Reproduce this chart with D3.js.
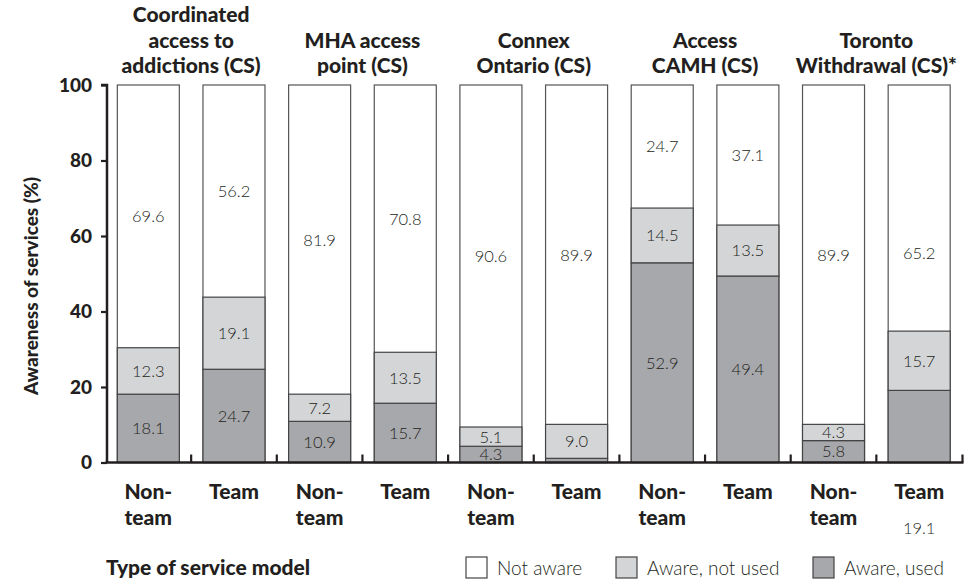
<!DOCTYPE html>
<html>
<head>
<meta charset="utf-8">
<script src="https://cdn.jsdelivr.net/npm/d3@7"></script>
<style>
  body { margin: 0; background: #fff; }
  svg text { font-family: Lato, "Open Sans", sans-serif; fill: #231f20; }
</style>
</head>
<body>
<svg id="chart" width="965" height="581"></svg>
<script>
// services (header of each pair of bars), split in lines as printed
const services = [
  ["Coordinated", "access to", "addictions (CS)"],
  ["MHA access", "point (CS)"],
  ["Connex", "Ontario (CS)"],
  ["Access", "CAMH (CS)"],
  ["Toronto", "Withdrawal (CS)*"]
];
const models = [["Non-", "team"], ["Team"]];

// one value per bar, in order: service 1 non-team, service 1 team, ...
const awareUsed    = [18.1, 24.7, 10.9, 15.7, 4.3, 1.1, 52.9, 49.4, 5.8, 19.1];
const awareNotUsed = [12.3, 19.1,  7.2, 13.5, 5.1, 9.0, 14.5, 13.5, 4.3, 15.7];
const notAware     = [69.6, 56.2, 81.9, 70.8, 90.6, 89.9, 24.7, 37.1, 89.9, 65.2];

const yTicks = [0, 20, 40, 60, 80, 100];
const legendItems = ["Not aware", "Aware, not used", "Aware, used"];
const colors = ["#ffffff", "#d4d5d7", "#a7a8ab"];

const svg = d3.select("#chart");

const bars = d3.range(awareUsed.length);
const x = d3.scaleBand()
  .domain(bars)
  .range([105.5, 962])
  .paddingInner(0.276)
  .paddingOuter(0.138);
const y = d3.scaleLinear().domain([0, 100]).range([462.5, 85]);
const step = x.step();

// bars: full white box first, then stacked segments on top of it
const g = svg.append("g");
g.selectAll("rect.box")
  .data(bars)
  .enter()
  .append("rect")
  .attr("x", d => x(d))
  .attr("y", y(100))
  .attr("width", x.bandwidth())
  .attr("height", y(0) - y(100))
  .attr("fill", colors[0])
  .attr("stroke", "#555")
  .attr("stroke-width", 1.2);

const segs = [];
bars.forEach(i => {
  segs.push({ i: i, y0: 0, y1: awareUsed[i], v: awareUsed[i], c: colors[2] });
  segs.push({ i: i, y0: awareUsed[i], y1: awareUsed[i] + awareNotUsed[i], v: awareNotUsed[i], c: colors[1] });
});
g.selectAll("rect.seg")
  .data(segs)
  .enter()
  .append("rect")
  .attr("x", d => x(d.i))
  .attr("y", d => y(d.y1))
  .attr("width", x.bandwidth())
  .attr("height", d => y(d.y0) - y(d.y1))
  .attr("fill", d => d.c)
  .attr("stroke", "#444")
  .attr("stroke-width", 1.2);

// value labels, centred in their segment
const labels = segs.filter(d => d.v >= 2).map(d => ({ i: d.i, v: d.v, at: (d.y0 + d.y1) / 2 }));
bars.forEach(i => {
  const top = awareUsed[i] + awareNotUsed[i];
  labels.push({ i: i, v: notAware[i], at: (top + 100) / 2 });
});
// the last bar is typeset oddly in the original
labels.forEach(d => {
  if (d.i === 9 && d.v === notAware[9]) d.py = y(55.4);
  if (d.i === 9 && d.v === awareUsed[9]) d.py = 528;
});
g.selectAll("text.val")
  .data(labels)
  .enter()
  .append("text")
  .attr("x", d => x(d.i) + x.bandwidth() / 2)
  .attr("y", d => d.py !== undefined ? d.py : y(d.at))
  .attr("dy", "0.36em")
  .attr("text-anchor", "middle")
  .style("font-size", "16.5px")
  .style("font-weight", 300)
  .text(d => d.v.toFixed(1));

// y axis
const yAxis = svg.append("g")
  .attr("transform", "translate(107,0)")
  .call(d3.axisLeft(y).tickValues(yTicks).tickSize(6).tickPadding(9));
yAxis.select(".domain").attr("stroke", "#231f20").attr("stroke-width", 2.5)
  .attr("d", "M-6," + y(100) + "H0V" + y(0));
yAxis.selectAll(".tick line").attr("stroke", "#231f20").attr("stroke-width", 2.2);
yAxis.selectAll(".tick text")
  .style("font-size", "19px")
  .style("font-weight", 900)
  .attr("fill", "#231f20");

// x axis line and the small upward ticks between bars
svg.append("line")
  .attr("x1", 105.5).attr("x2", 963.5)
  .attr("y1", y(0)).attr("y2", y(0))
  .attr("stroke", "#231f20").attr("stroke-width", 2.5);
const xTicks = bars.slice(1).map(i => x(i) - step * x.paddingInner() / 2).concat([962.5]);
svg.selectAll("line.xt")
  .data(xTicks)
  .enter()
  .append("line")
  .attr("x1", d => d).attr("x2", d => d)
  .attr("y1", y(0)).attr("y2", y(0) - 8)
  .attr("stroke", "#231f20").attr("stroke-width", 2.2);

// model labels under bars
bars.forEach(i => {
  const lines = models[i % 2];
  const t = svg.append("text")
    .attr("text-anchor", "middle")
    .style("font-size", "21px")
    .style("font-weight", 900);
  lines.forEach((s, k) => {
    t.append("tspan")
      .attr("x", x(i) + x.bandwidth() / 2)
      .attr("y", 499 + k * 26)
      .text(s);
  });
});

// service headers, bottom lines aligned
services.forEach((lines, s) => {
  const cx = (x(2 * s) + x(2 * s + 1) + x.bandwidth()) / 2;
  const t = svg.append("text")
    .attr("text-anchor", "middle")
    .style("font-size", "21px")
    .style("font-weight", 900);
  lines.forEach((str, k) => {
    t.append("tspan")
      .attr("x", cx)
      .attr("y", 73 - (lines.length - 1 - k) * 25.5)
      .text(str);
  });
});

// y title
svg.append("text")
  .attr("transform", "translate(38,286) rotate(-90)")
  .attr("text-anchor", "middle")
  .style("font-size", "19px")
  .style("font-weight", 900)
  .text("Awareness of services (%)");

// legend
svg.append("text")
  .attr("x", 106).attr("y", 575)
  .style("font-size", "21px")
  .style("font-weight", 900)
  .text("Type of service model");

const legendX = [466, 616, 813];
const lg = svg.selectAll("g.lg")
  .data(legendItems)
  .enter()
  .append("g")
  .attr("transform", (d, i) => "translate(" + legendX[i] + ",557)");
lg.append("rect")
  .attr("width", 21).attr("height", 21)
  .attr("fill", (d, i) => colors[i])
  .attr("stroke", "#444").attr("stroke-width", 1.2);
lg.append("text")
  .attr("x", 31).attr("y", 18)
  .style("font-size", "19px")
  .style("font-weight", 300)
  .text(d => d);
</script>
</body>
</html>
